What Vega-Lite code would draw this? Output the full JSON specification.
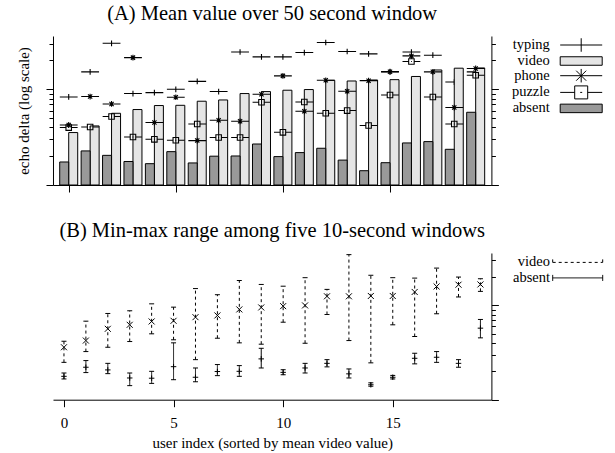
{
"$schema": "https://vega.github.io/schema/vega-lite/v6.json",
"padding": {"left": 16, "top": 4, "right": 4, "bottom": 2},
"spacing": 28,
"config": {"view": {"stroke": null}, "font": "Liberation Serif", "axis": {"grid": false, "domainColor": "black", "tickColor": "black", "labelColor": "black", "titleColor": "black", "labelFont": "Liberation Serif", "titleFont": "Liberation Serif", "titleFontWeight": "normal"}, "legend": {"labelFont": "Liberation Serif", "labelColor": "black"}},
"datasets": {
"meanA": [
{"user":0,"activity":"typing","value":8.31},{"user":0,"activity":"video","value":3.53},{"user":0,"activity":"phone","value":4.24},{"user":0,"activity":"puzzle","value":3.98},{"user":0,"activity":"absent","value":1.74},
{"user":1,"activity":"typing","value":15.2},{"user":1,"activity":"video","value":4.14},{"user":1,"activity":"phone","value":8.39},{"user":1,"activity":"puzzle","value":4.04},{"user":1,"activity":"absent","value":2.27},
{"user":2,"activity":"typing","value":30.2},{"user":2,"activity":"video","value":5.61},{"user":2,"activity":"phone","value":7.02},{"user":2,"activity":"puzzle","value":5.19},{"user":2,"activity":"absent","value":2.04},
{"user":3,"activity":"typing","value":9.02},{"user":3,"activity":"video","value":6.14},{"user":3,"activity":"phone","value":21.4},{"user":3,"activity":"puzzle","value":3.17},{"user":3,"activity":"absent","value":1.76},
{"user":4,"activity":"typing","value":9.23},{"user":4,"activity":"video","value":6.76},{"user":4,"activity":"phone","value":4.49},{"user":4,"activity":"puzzle","value":3.0},{"user":4,"activity":"absent","value":1.67},
{"user":5,"activity":"typing","value":10.0},{"user":5,"activity":"video","value":6.8},{"user":5,"activity":"phone","value":8.25},{"user":5,"activity":"puzzle","value":2.93},{"user":5,"activity":"absent","value":2.23},
{"user":6,"activity":"typing","value":12.1},{"user":6,"activity":"video","value":7.5},{"user":6,"activity":"phone","value":2.91},{"user":6,"activity":"puzzle","value":4.34},{"user":6,"activity":"absent","value":1.7},
{"user":7,"activity":"typing","value":9.46},{"user":7,"activity":"video","value":7.73},{"user":7,"activity":"phone","value":4.74},{"user":7,"activity":"puzzle","value":3.13},{"user":7,"activity":"absent","value":2.0},
{"user":8,"activity":"typing","value":24.5},{"user":8,"activity":"video","value":9.02},{"user":8,"activity":"phone","value":4.63},{"user":8,"activity":"puzzle","value":3.13},{"user":8,"activity":"absent","value":2.01},
{"user":9,"activity":"typing","value":21.8},{"user":9,"activity":"video","value":9.46},{"user":9,"activity":"phone","value":8.87},{"user":9,"activity":"puzzle","value":7.31},{"user":9,"activity":"absent","value":2.68},
{"user":10,"activity":"typing","value":21.8},{"user":10,"activity":"video","value":9.77},{"user":10,"activity":"phone","value":13.8},{"user":10,"activity":"puzzle","value":3.55},{"user":10,"activity":"absent","value":1.98},
{"user":11,"activity":"typing","value":24.2},{"user":11,"activity":"video","value":9.93},{"user":11,"activity":"phone","value":5.89},{"user":11,"activity":"puzzle","value":7.37},{"user":11,"activity":"absent","value":2.18},
{"user":12,"activity":"typing","value":30.8},{"user":12,"activity":"video","value":12.4},{"user":12,"activity":"phone","value":12.4},{"user":12,"activity":"puzzle","value":5.61},{"user":12,"activity":"absent","value":2.42},
{"user":13,"activity":"typing","value":24.8},{"user":13,"activity":"video","value":12.2},{"user":13,"activity":"phone","value":9.53},{"user":13,"activity":"puzzle","value":5.99},{"user":13,"activity":"absent","value":1.82},
{"user":14,"activity":"typing","value":23.4},{"user":14,"activity":"video","value":12.5},{"user":14,"activity":"phone","value":12.3},{"user":14,"activity":"puzzle","value":4.18},{"user":14,"activity":"absent","value":1.41},
{"user":15,"activity":"typing","value":15.3},{"user":15,"activity":"video","value":12.6},{"user":15,"activity":"phone","value":15.2},{"user":15,"activity":"puzzle","value":8.72},{"user":15,"activity":"absent","value":1.71},
{"user":16,"activity":"typing","value":24.5},{"user":16,"activity":"video","value":13.6},{"user":16,"activity":"phone","value":22.3},{"user":16,"activity":"puzzle","value":19.5},{"user":16,"activity":"absent","value":2.75},
{"user":17,"activity":"typing","value":22.7},{"user":17,"activity":"video","value":15.9},{"user":17,"activity":"phone","value":15.2},{"user":17,"activity":"puzzle","value":8.31},{"user":17,"activity":"absent","value":2.84},
{"user":18,"activity":"typing","value":11.9},{"user":18,"activity":"video","value":16.6},{"user":18,"activity":"phone","value":6.44},{"user":18,"activity":"puzzle","value":4.34},{"user":18,"activity":"absent","value":2.36},
{"user":19,"activity":"typing","value":15.2},{"user":19,"activity":"video","value":16.7},{"user":19,"activity":"phone","value":16.5},{"user":19,"activity":"puzzle","value":14.0},{"user":19,"activity":"absent","value":5.75}
],
"rangeB": [
{"user":0,"series":"video","lo":2.49,"mid":3.6,"hi":4.17},{"user":0,"series":"absent","lo":1.66,"mid":1.77,"hi":1.92},
{"user":1,"series":"video","lo":3.24,"mid":4.24,"hi":6.81},{"user":1,"series":"absent","lo":1.94,"mid":2.21,"hi":2.6},
{"user":2,"series":"video","lo":3.6,"mid":5.65,"hi":8.22},{"user":2,"series":"absent","lo":1.89,"mid":2.07,"hi":2.43},
{"user":3,"series":"video","lo":4.14,"mid":6.23,"hi":8.78},{"user":3,"series":"absent","lo":1.41,"mid":1.7,"hi":1.92},
{"user":4,"series":"video","lo":5.0,"mid":6.76,"hi":10.4},{"user":4,"series":"absent","lo":1.49,"mid":1.69,"hi":2.0},
{"user":5,"series":"video","lo":4.32,"mid":6.87,"hi":9.59},{"user":5,"series":"absent","lo":1.63,"mid":2.24,"hi":4.01},
{"user":6,"series":"video","lo":2.66,"mid":7.51,"hi":15.1},{"user":6,"series":"absent","lo":1.55,"mid":1.73,"hi":2.17},
{"user":7,"series":"video","lo":4.49,"mid":7.83,"hi":13.0},{"user":7,"series":"absent","lo":1.8,"mid":1.99,"hi":2.36},
{"user":8,"series":"video","lo":4.01,"mid":9.07,"hi":18.4},{"user":8,"series":"absent","lo":1.77,"mid":2.0,"hi":2.3},
{"user":9,"series":"video","lo":3.88,"mid":9.52,"hi":16.7},{"user":9,"series":"absent","lo":2.17,"mid":2.71,"hi":3.51},
{"user":10,"series":"video","lo":6.64,"mid":9.83,"hi":16.0},{"user":10,"series":"absent","lo":1.84,"mid":1.95,"hi":2.08},
{"user":11,"series":"video","lo":3.97,"mid":10.0,"hi":19.7},{"user":11,"series":"absent","lo":1.92,"mid":2.17,"hi":2.43},
{"user":12,"series":"video","lo":8.02,"mid":12.5,"hi":14.8},{"user":12,"series":"absent","lo":2.23,"mid":2.43,"hi":2.66},
{"user":13,"series":"video","lo":4.24,"mid":12.5,"hi":34.6},{"user":13,"series":"absent","lo":1.7,"mid":1.88,"hi":2.12},
{"user":14,"series":"video","lo":2.46,"mid":12.6,"hi":20.9},{"user":14,"series":"absent","lo":1.39,"mid":1.44,"hi":1.51},
{"user":15,"series":"video","lo":6.23,"mid":12.6,"hi":19.7},{"user":15,"series":"absent","lo":1.66,"mid":1.73,"hi":1.81},
{"user":16,"series":"video","lo":4.68,"mid":13.9,"hi":19.5},{"user":16,"series":"absent","lo":2.4,"mid":2.75,"hi":3.11},
{"user":17,"series":"video","lo":8.16,"mid":15.9,"hi":24.9},{"user":17,"series":"absent","lo":2.49,"mid":2.82,"hi":3.24},
{"user":18,"series":"video","lo":12.3,"mid":16.6,"hi":20.0},{"user":18,"series":"absent","lo":2.21,"mid":2.43,"hi":2.66},
{"user":19,"series":"video","lo":14.1,"mid":16.7,"hi":19.2},{"user":19,"series":"absent","lo":4.53,"mid":5.74,"hi":7.1}
]
},
"vconcat": [
{
 "title": {"text": "(A) Mean value over 50 second window", "font": "Liberation Serif", "fontSize": 20.5, "fontWeight": "normal", "color": "black", "anchor": "middle", "frame": "group", "baseline": "bottom", "offset": -8.6},
 "width": 438.4, "height": 149,
 "data": {"name": "meanA"},
 "encoding": {"x": {"field": "user", "type": "quantitative", "scale": {"domain": [-0.5, 19.5], "nice": false, "zero": false}, "axis": {"values": [0,5,10,15], "labels": false, "title": null, "tickSize": 7, "grid": false}}},
 "layer": [
  {
   "encoding": {"y": {"field": "value", "type": "quantitative", "scale": {"type": "log", "domain": [1, 36], "nice": false}, "axis": {"orient": "left", "values": [1,2,3,4,5,6,7,8,9,10,20,30], "labels": false, "tickSize": {"condition": {"test": "datum.value === 1 || datum.value === 10", "value": 7}, "value": 4}, "title": "echo delta (log scale)", "titleFontSize": 15, "titleX": -24, "titleY": 74.5, "titleAngle": -90, "titleAlign": "center", "titleBaseline": "alphabetic", "grid": false}}},
   "layer": [
    {"transform": [{"filter": "datum.activity === 'typing'"}], "mark": {"type": "point", "filled": false, "size": 18, "color": "black", "strokeWidth": 1.1, "opacity": 1},
     "encoding": {"shape": {"field": "activity", "type": "nominal",
       "scale": {"domain": ["typing","video","phone","puzzle","absent"], "range": ["M-4.2,0H4.2M0,-1.35V1.35", "M-4.2,-0.85H4.2V0.85H-4.2Z", "M-4.2,0H4.2M0,-1.35V1.35M-1,-1L1,1M-1,1L1,-1", "M-4.2,0H-1.3M1.3,0H4.2M-1.3,-1.3H1.3V1.3H-1.3ZM-0.2,0H0.2", "M-4.2,-0.85H4.2V0.85H-4.2Z"]},
       "legend": {"orient": "none", "legendX": 520.95, "legendY": 1.75, "title": null, "padding": 0, "rowPadding": -1.3, "symbolSize": 100, "symbolStrokeColor": "black", "symbolStrokeWidth": 1, "symbolOpacity": 1, "labelAlign": "right", "labelOffset": -38.75, "labelBaseline": "middle", "labelFont": "Liberation Serif", "labelFontSize": 14.5, "labelColor": "black"}}}},
    {"transform": [{"filter": "datum.activity === 'video'"}], "mark": {"type": "bar", "width": 9, "xOffset": 4.5, "stroke": "black", "strokeWidth": 1, "opacity": 1},
     "encoding": {"y2": {"datum": 1},
      "fill": {"field": "activity", "type": "nominal", "scale": {"domain": ["typing","video","phone","puzzle","absent"], "range": ["transparent", "#e5e5e5", "transparent", "transparent", "#999999"]},
       "legend": {"orient": "none", "legendX": 520.95, "legendY": 1.75, "title": null, "padding": 0, "rowPadding": -1.3, "symbolSize": 100, "symbolStrokeColor": "black", "symbolStrokeWidth": 1, "symbolOpacity": 1, "labelAlign": "right", "labelOffset": -38.75, "labelBaseline": "middle", "labelFont": "Liberation Serif", "labelFontSize": 14.5, "labelColor": "black"}}}},
    {"transform": [{"filter": "datum.activity === 'phone' || datum.activity === 'puzzle'"}], "mark": {"type": "point", "filled": false, "size": 18, "color": "black", "strokeWidth": 1.1, "opacity": 1},
     "encoding": {"shape": {"field": "activity", "type": "nominal"}}}
   ]
  },
  {
   "transform": [{"filter": "datum.activity === 'absent'"}],
   "mark": {"type": "bar", "width": 9, "xOffset": -4.5, "stroke": "black", "strokeWidth": 1, "opacity": 1},
   "encoding": {"y": {"field": "value", "type": "quantitative", "scale": {"type": "log", "domain": [1, 36], "nice": false}, "axis": {"orient": "right", "values": [1,2,3,4,5,6,7,8,9,10,20,30], "labels": false, "title": null, "tickSize": {"condition": {"test": "datum.value === 1 || datum.value === 10", "value": 7}, "value": 4}, "grid": false}}, "y2": {"datum": 1},
    "fill": {"field": "activity", "type": "nominal"}}
  }
 ],
 "resolve": {"scale": {"y": "independent"}}
},
{
 "title": {"text": "(B) Min-max range among five 10-second windows", "font": "Liberation Serif", "fontSize": 20.5, "fontWeight": "normal", "color": "black", "anchor": "middle", "frame": "group", "baseline": "bottom", "offset": -9},
 "width": 438.4, "height": 146.7,
 "data": {"name": "rangeB"},
 "encoding": {"x": {"field": "user", "type": "quantitative", "scale": {"domain": [-0.5, 19.5], "nice": false, "zero": false}, "axis": {"values": [0,5,10,15], "labels": true, "labelFontSize": 15, "labelPadding": 9, "title": "user index (sorted by mean video value)", "titleFontSize": 15, "titlePadding": 5, "tickSize": 7, "grid": false}}},
 "layer": [
  {
   "layer": [
    {"mark": {"type": "rule", "color": "black", "strokeWidth": 1},
     "encoding": {"y": {"field": "lo", "type": "quantitative", "scale": {"type": "log", "domain": [1, 36], "nice": false}, "axis": {"orient": "left", "values": [1,2,3,4,5,6,7,8,9,10,20,30], "labels": false, "tickSize": {"condition": {"test": "datum.value === 1 || datum.value === 10", "value": 7}, "value": 4}, "title": "echo delta (log scale)", "titleFontSize": 15, "titleX": -24, "titleY": 73.35, "titleAngle": -90, "titleAlign": "center", "titleBaseline": "alphabetic", "grid": false}}, "y2": {"field": "hi"},
      "strokeDash": {"field": "series", "type": "nominal", "scale": {"domain": ["video", "absent"], "range": [[3, 3], [1, 0]]},
       "legend": {"orient": "none", "legendX": 517.45, "legendY": 2.15, "title": null, "padding": 0, "rowPadding": 0.5, "symbolSize": 100, "symbolType": "M-5,-0.6V0.6M-5,0H5M5,-0.6V0.6", "symbolStrokeColor": "black", "symbolStrokeWidth": 1, "symbolOpacity": 1, "labelAlign": "right", "labelOffset": -34.95, "labelBaseline": "middle", "labelFont": "Liberation Serif", "labelFontSize": 14.5, "labelColor": "black"}}}},
    {"mark": {"type": "tick", "orient": "horizontal", "size": 5, "thickness": 1, "color": "black", "opacity": 1},
     "encoding": {"y": {"field": "hi", "type": "quantitative", "scale": {"type": "log", "domain": [1, 36], "nice": false}, "axis": null}}},
    {"mark": {"type": "tick", "orient": "horizontal", "size": 5, "thickness": 1, "color": "black", "opacity": 1},
     "encoding": {"y": {"field": "lo", "type": "quantitative", "scale": {"type": "log", "domain": [1, 36], "nice": false}, "axis": null}}},
    {"transform": [{"filter": "datum.series === 'video'"}], "mark": {"type": "point", "shape": "M-1,-1L1,1M-1,1L1,-1", "filled": false, "size": 36, "color": "black", "strokeWidth": 1, "opacity": 1},
     "encoding": {"y": {"field": "mid", "type": "quantitative", "scale": {"type": "log", "domain": [1, 36], "nice": false}, "axis": null}}}
   ]
  },
  {
   "transform": [{"filter": "datum.series === 'absent'"}],
   "mark": {"type": "point", "shape": "M-1,0H1M0,-1V1", "filled": false, "size": 30, "color": "black", "strokeWidth": 1, "opacity": 1},
   "encoding": {"y": {"field": "mid", "type": "quantitative", "scale": {"type": "log", "domain": [1, 36], "nice": false}, "axis": {"orient": "right", "values": [1,2,3,4,5,6,7,8,9,10,20,30], "labels": false, "title": null, "tickSize": {"condition": {"test": "datum.value === 1 || datum.value === 10", "value": 7}, "value": 4}, "grid": false}}}
  }
 ],
 "resolve": {"scale": {"y": "independent"}}
}
],
"resolve": {"scale": {"fill": "independent", "shape": "independent", "strokeDash": "independent"}, "legend": {"fill": "independent", "shape": "independent", "strokeDash": "independent"}}
}
